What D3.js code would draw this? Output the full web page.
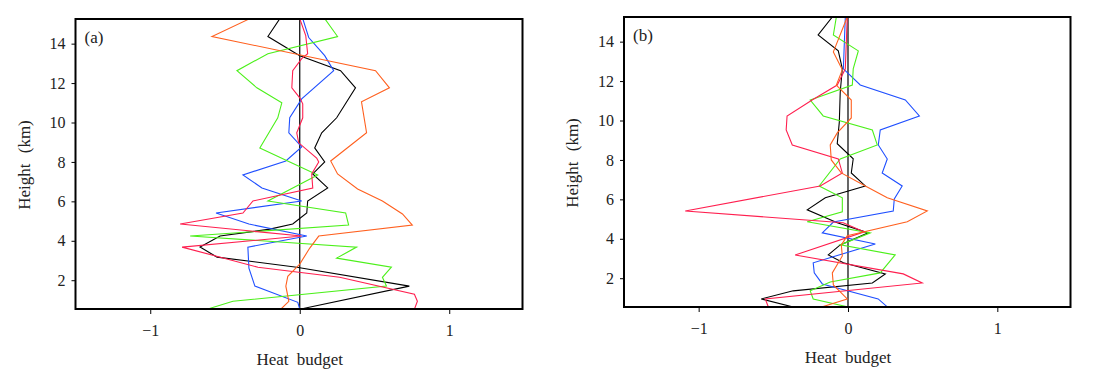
<!DOCTYPE html>
<meta charset="utf-8">
<html>
<head>
<title>Heat budget profiles</title>
<style>
  body { margin: 0; background: #fff; }
  svg text { font-family: "Liberation Serif", "Times New Roman", "DejaVu Serif", serif !important; fill: #222; }
  .series { fill: none; stroke-width: 1.1px; stroke-linejoin: miter; }
</style>
<script src="https://cdn.jsdelivr.net/npm/d3@7"></script>
</head>
<body>
<script>

var serif = "'Liberation Serif', 'Times New Roman', 'DejaVu Serif', serif";

// ---- panel (a): values and heights (km) for each curve
var a_black   = [-0.133,-0.213,0,0.273,0.373,0.247,0.147,0.10,0.167,0.087,0.187,0.053,0.047,-0.047,-0.2,-0.533,-0.667,-0.553,-0.02,0.733,0];
var a_black_h = [15.27,14.36,13.39,12.63,11.76,10.24,9.48,8.71,8.00,7.39,6.68,6.02,5.41,4.85,4.59,4.24,3.68,3.17,2.66,1.70,0.53];

var a_red     = [0,0.04,0.053,0.013,-0.047,-0.053,0,0.02,0.02,-0.02,-0.007,0.113,0.127,0.08,0.087,-0.313,-0.38,-0.80,0.013,-0.787,-0.28,0.267,0.767,0.787,0.767];
var a_red_h   = [15.27,14.41,13.49,13.24,12.63,11.76,11.25,10.95,10.24,9.48,8.97,8.20,8.00,7.39,6.68,6.02,5.41,4.85,4.24,3.68,2.66,2.15,1.29,0.93,0.53];

var a_blue    = [0.02,0.06,0.167,0.227,0.013,-0.067,-0.073,0.013,-0.093,-0.38,-0.253,0.013,-0.56,-0.34,0.047,-0.347,-0.34,-0.30,-0.013,0];
var a_blue_h  = [15.27,14.31,13.39,12.63,11.20,10.24,9.48,8.76,8.05,7.34,6.68,6.02,5.41,4.85,4.24,3.68,2.61,1.70,0.88,0.53];

var a_green   = [0.167,0.253,-0.213,-0.42,-0.287,-0.12,-0.147,-0.267,0.12,-0.213,0.307,0.327,-0.733,0.38,0.247,0.613,0.553,0.58,-0.447,-0.62];
var a_green_h = [15.27,14.36,13.49,12.63,11.76,11.0,10.24,8.71,7.34,6.02,5.41,4.80,4.24,3.68,3.12,2.66,2.15,1.70,0.93,0.53];

var a_orange  = [-0.333,-0.587,0.507,0.6,0.413,0.447,0.207,0.253,0.387,0.553,0.687,0.753,0.127,0.067,0,-0.08,-0.093,-0.073,-0.127];
var a_orange_h= [15.27,14.36,12.63,11.76,11.05,9.48,8.05,7.39,6.63,6.02,5.36,4.80,4.24,3.63,2.82,2.20,1.70,0.93,0.53];

// ---- panel (b)
var b_black   = [-0.105,-0.2,-0.065,-0.038,-0.052,-0.058,-0.072,0.035,0.022,0.116,-0.152,-0.273,-0.072,0.136,-0.052,-0.132,-0.031,0.25,0.163,-0.367,-0.581,-0.373];
var b_black_h = [15.25,14.34,13.53,12.62,11.45,9.93,8.82,8.06,7.34,6.68,6.08,5.47,4.81,4.30,3.69,3.18,2.78,2.22,1.76,1.36,0.95,0.55];

var b_red     = [-0.005,-0.018,-0.072,-0.24,-0.408,-0.414,-0.373,-0.065,-0.038,-0.186,-1.09,-0.032,0.109,-0.354,0.37,0.497,-0.554,-0.534];
var b_red_h   = [15.25,12.62,11.80,11.04,10.23,9.52,8.76,8.05,7.34,6.68,5.41,4.81,4.35,3.18,2.22,1.76,0.95,0.55];

var b_blue    = [-0.018,-0.031,0.082,0.384,0.478,0.216,0.203,0.263,0.229,0.363,0.31,0.303,-0.098,-0.172,0.183,-0.233,-0.226,-0.172,0.202,0.263];
var b_blue_h  = [15.25,12.62,11.80,11.04,10.23,9.52,8.76,8.05,7.34,6.68,6.02,5.41,4.85,4.30,3.74,2.78,2.27,1.71,0.95,0.55];

var b_green   = [-0.078,-0.098,0.069,0.035,0.029,-0.253,-0.166,0.163,0.196,-0.052,-0.193,-0.038,-0.038,-0.273,0.149,-0.052,0.316,0.216,-0.119,-0.253,-0.233,-0.005];
var b_green_h = [15.25,14.34,13.53,12.62,11.80,11.04,10.23,9.52,8.76,8.05,6.68,6.08,5.37,4.86,4.30,3.69,3.18,2.27,1.81,1.36,0.95,0.55];

var b_orange  = [-0.005,-0.098,-0.038,-0.078,0.022,0.022,-0.072,-0.119,-0.112,-0.045,0.116,0.263,0.531,0.397,-0.005,-0.045,-0.038,-0.105,-0.098,-0.005,-0.172];
var b_orange_h= [15.25,13.48,12.57,11.80,11.04,10.13,9.37,8.76,8.0,7.34,6.68,6.08,5.41,4.86,4.15,3.69,3.13,2.27,1.66,0.95,0.55];

var xTicks = [-1, 0, 1];
var yTicks = [2, 4, 6, 8, 10, 12, 14];
var colors = {black: "#000000", blue: "#1f4fff", green: "#4cf01a", red: "#ff1f4f", orange: "#ff601f"};

var panels = [
  {label: "(a)", left: 75.5, right: 522.5, top: 19, bottom: 309,
   series: [["black", a_black, a_black_h], ["blue", a_blue, a_blue_h], ["green", a_green, a_green_h],
            ["red", a_red, a_red_h], ["orange", a_orange, a_orange_h]]},
  {label: "(b)", left: 624, right: 1070.5, top: 17, bottom: 307,
   series: [["black", b_black, b_black_h], ["blue", b_blue, b_blue_h], ["green", b_green, b_green_h],
            ["red", b_red, b_red_h], ["orange", b_orange, b_orange_h]]}
];

var svg = d3.select("body").append("svg")
    .attr("width", 1096)
    .attr("height", 385);

panels.forEach(function(p, i) {
  var x = d3.scaleLinear().domain([-1.5, 1.49]).range([p.left, p.right]);
  var y = d3.scaleLinear().domain([0.54, 15.25]).range([p.bottom, p.top]);
  var g = svg.append("g");

  g.append("clipPath").attr("id", "clip" + i)
    .append("rect")
      .attr("x", p.left).attr("y", p.top)
      .attr("width", p.right - p.left).attr("height", p.bottom - p.top);

  // x axis (ticks outward)
  var xa = g.append("g")
      .attr("transform", "translate(0," + p.bottom + ")")
      .call(d3.axisBottom(x).tickValues(xTicks).tickSize(5).tickPadding(11)
              .tickFormat(function(d) { return d < 0 ? "\u2212" + Math.abs(d) : d; }));
  xa.attr("font-family", serif);
  xa.select(".domain").remove();
  xa.selectAll("text").style("font-size", "16px").style("font-family", serif).attr("fill", "#222");

  var ya = g.append("g")
      .attr("transform", "translate(" + p.left + ",0)")
      .call(d3.axisLeft(y).tickValues(yTicks).tickSize(4).tickPadding(6));
  ya.attr("font-family", serif);
  ya.select(".domain").remove();
  ya.selectAll("text").style("font-size", "16px").style("font-family", serif).attr("fill", "#222");

  // zero line
  g.append("line")
    .attr("x1", x(0)).attr("x2", x(0))
    .attr("y1", p.top).attr("y2", p.bottom)
    .attr("stroke", "#000").attr("stroke-width", 1.2);

  var line = d3.line()
    .x(function(d) { return x(d[0]); })
    .y(function(d) { return y(d[1]); });

  var lines = g.append("g").attr("clip-path", "url(#clip" + i + ")");
  p.series.forEach(function(s) {
    var pts = s[1].map(function(v, k) { return [v, s[2][k]]; });
    lines.append("path")
      .datum(pts)
      .attr("class", "series")
      .attr("stroke", colors[s[0]])
      .attr("d", line);
  });

  // frame
  g.append("rect")
    .attr("x", p.left).attr("y", p.top)
    .attr("width", p.right - p.left).attr("height", p.bottom - p.top)
    .attr("fill", "none").attr("stroke", "#000").attr("stroke-width", 2);

  g.append("text")
    .attr("x", p.left + 9).attr("y", p.top + 24)
    .style("font-family", serif)
    .style("font-size", "17px")
    .text(p.label);

  g.append("text")
    .attr("x", x(0)).attr("y", p.bottom + 56)
    .attr("text-anchor", "middle")
    .style("font-family", serif)
    .style("font-size", "17px")
    .style("word-spacing", "4px")
    .text("Heat budget");

  g.append("text")
    .attr("transform", "translate(" + (p.left - 46) + "," + ((p.top + p.bottom) / 2 + 1) + ") rotate(-90)")
    .attr("text-anchor", "middle")
    .style("font-family", serif)
    .style("font-size", "17px")
    .style("word-spacing", "6px")
    .text("Height (km)");
});

</script>
</body>
</html>
